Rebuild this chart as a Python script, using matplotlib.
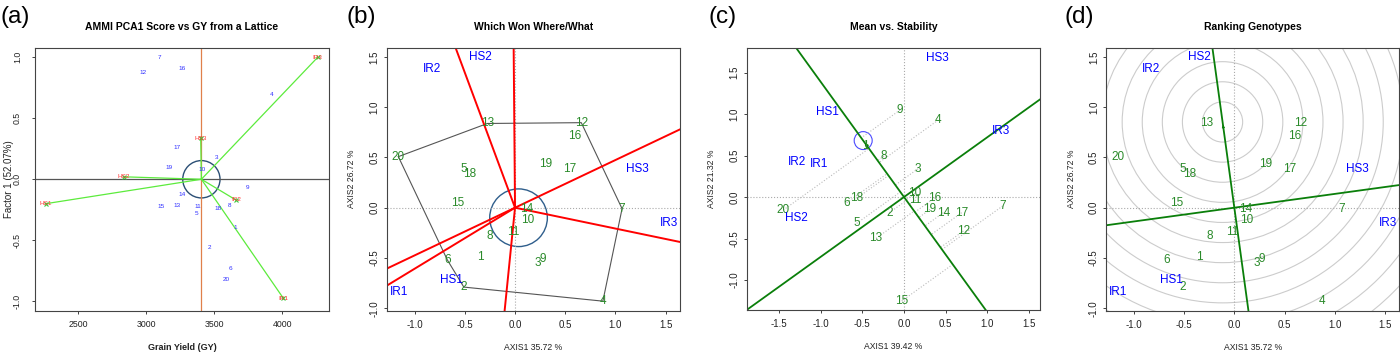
import matplotlib
matplotlib.use("Agg")
import matplotlib.pyplot as plt
import numpy as np
from matplotlib.patches import Circle, Ellipse

plt.rcParams["font.family"] = ["Liberation Sans", "DejaVu Sans"]
plt.rcParams["axes.unicode_minus"] = False

GENOTYPES = [str(i) for i in range(1, 21)]

# (a) AMMI: grain yield vs PCA1
A_GY = [3654, 3463, 3519, 3921, 3370, 3615, 3095, 3610, 3747, 3411,
        3377, 2978, 3225, 3260, 3106, 3260, 3223, 3524, 3164, 3588]
A_PC1 = [-0.397, -0.561, 0.180, 0.697, -0.279, -0.735, 1.000, -0.213, -0.069, 0.076,
         -0.224, 0.877, -0.213, -0.123, -0.221, 0.907, 0.262, -0.241, 0.095, -0.820]
A_ENVS = ["IR3", "HS3", "HS2", "HS1", "IR2", "IR1"]
A_ENV_GY = [4260, 3400, 2836, 2263, 3659, 4007]
A_ENV_PC1 = [1.000, 0.338, 0.020, -0.200, -0.170, -0.975]
A_MEAN_GY = 3405

# (b) and (d) GGE biplot scores
BD_X = [-0.349, -0.510, 0.226, 0.875, -0.515, -0.674, 1.066, -0.249, 0.272, 0.123,
        -0.017, 0.660, -0.275, 0.116, -0.571, 0.597, 0.548, -0.448, 0.309, -1.162]
BD_Y = [-0.487, -0.790, -0.553, -0.930, 0.381, -0.520, -0.010, -0.282, -0.513, -0.122,
        -0.245, 0.846, 0.838, -0.016, 0.050, 0.713, 0.388, 0.335, 0.432, 0.508]
BD_ENVS = ["IR2", "HS2", "HS3", "IR3", "HS1", "IR1"]
BD_ENV_X = [-0.830, -0.345, 1.222, 1.534, -0.631, -1.155]
BD_ENV_Y = [1.377, 1.495, 0.388, -0.149, -0.719, -0.839]
B_CIRCLE = (0.035, -0.100, 0.287)
D_IDEAL = (-0.117, 0.853)
D_RING_STEP = 0.2

# (c) mean vs stability scores
C_X = [-0.468, -0.176, 0.168, 0.412, -0.568, -0.688, 1.184, -0.240, -0.048, 0.132,
       0.140, 0.712, -0.336, 0.472, -0.028, 0.372, 0.692, -0.568, 0.312, -1.449]
C_Y = [0.618, -0.189, 0.341, 0.928, -0.317, -0.068, -0.108, 0.494, 1.048, 0.044,
       -0.036, -0.410, -0.498, -0.189, -1.253, -0.008, -0.189, -0.016, -0.150, -0.157]
C_ENVS = ["HS3", "HS1", "IR3", "IR2", "IR1", "HS2"]
C_ENV_X = [0.400, -0.916, 1.161, -1.288, -1.017, -1.288]
C_ENV_Y = [1.671, 1.028, 0.799, 0.422, 0.398, -0.257]
C_AVG_ENV = (-0.490, 0.680)

GREEN_TXT = "#2A8A2A"
LINE_GREEN = "#0A7F0A"
W, H = 1400, 361


def r_axes(ax, xlim, ylim, xticks, yticks, size=7.0, xpad=4.0, ypad=2.5):
    ax.set_xlim(*xlim)
    ax.set_ylim(*ylim)
    ax.set_xticks(xticks)
    ax.set_yticks(yticks)
    ax.tick_params(direction="out", length=2.5, width=0.6, labelsize=size,
                   colors="#222222")
    ax.tick_params(axis="x", pad=xpad)
    ax.tick_params(axis="y", pad=ypad)
    plt.setp(ax.get_yticklabels(), rotation=90, va="center", ha="right")
    for s in ax.spines.values():
        s.set_color("#444444")
        s.set_linewidth(0.8)


def labels(ax, title, xlab, ylab, ylab_off=-0.119, bold_x=False, ysize=6.2):
    ax.text(0.5, 1.08, title, transform=ax.transAxes, ha="center", va="center",
            fontsize=7.5, fontweight="bold")
    ax.text(0.5, -0.139, xlab, transform=ax.transAxes, ha="center", va="center",
            fontsize=6.5 if bold_x else 6.2,
            fontweight="bold" if bold_x else "normal", color="#222222")
    ax.text(ylab_off, 0.5, ylab, transform=ax.transAxes, ha="center", va="center",
            rotation=90, fontsize=ysize, color="#222222")


def convex_hull(pts):
    pts = sorted(pts)

    def cross(o, a, b):
        return (a[0] - o[0]) * (b[1] - o[1]) - (a[1] - o[1]) * (b[0] - o[0])

    lower, upper = [], []
    for p in pts:
        while len(lower) >= 2 and cross(lower[-2], lower[-1], p) <= 0:
            lower.pop()
        lower.append(p)
    for p in reversed(pts):
        while len(upper) >= 2 and cross(upper[-2], upper[-1], p) <= 0:
            upper.pop()
        upper.append(p)
    return lower[:-1] + upper[:-1]


fig = plt.figure(figsize=(W / 100, H / 100), dpi=100)
fig.patch.set_facecolor("white")

ax_a = fig.add_axes([35 / W, 50 / H, 294 / W, 263 / H])
ax_b = fig.add_axes([386.7 / W, 50.3 / H, 293.3 / W, 263 / H])
ax_c = fig.add_axes([746.7 / W, 51 / H, 293.3 / W, 262.3 / H])
ax_d = fig.add_axes([1106 / W, 50.3 / H, 293.3 / W, 263 / H])

for letter, x in [("(a)", 1), ("(b)", 347), ("(c)", 709), ("(d)", 1065)]:
    fig.text(x / W, 1 - 17 / H, letter, fontsize=17.5, ha="left", va="center")

# ---- (a)
ax = ax_a
r_axes(ax, (2182, 4343), (-1.08, 1.076), [2500, 3000, 3500, 4000],
       [-1.0, -0.5, 0.0, 0.5, 1.0], size=6.3, xpad=4.3, ypad=7.0)
ax.yaxis.set_major_formatter(matplotlib.ticker.FormatStrFormatter("%.1f"))
labels(ax, "AMMI PCA1 Score vs GY from a Lattice", "Grain Yield (GY)",
       "Factor 1 (52.07%)", ylab_off=-0.088, bold_x=True, ysize=7.0)
ax.axhline(0, color="#555555", lw=0.9)
ax.axvline(A_MEAN_GY, color="#E0804A", lw=0.9)
ax.add_patch(Ellipse((A_MEAN_GY, 0), 2 * 137, 2 * 0.153, fill=False,
                     ec="#2B4F75", lw=1.0))
for name, ex, ey in zip(A_ENVS, A_ENV_GY, A_ENV_PC1):
    ax.plot([A_MEAN_GY, ex], [0, ey], color="#5CEB3C", lw=0.9)
    ax.plot(ex, ey, marker="x", color="#3CC83C", ms=2.5, mew=0.8)
    ax.text(ex, ey, name, color="#FF3030", fontsize=4.6, ha="center", va="center")
for g, gx, gy in zip(GENOTYPES, A_GY, A_PC1):
    ax.text(gx, gy, g, color="#3030FF", fontsize=4.6, ha="center", va="center")

# ---- (b)
ax = ax_b
r_axes(ax, (-1.278, 1.643), (-1.025, 1.592), [-1.0, -0.5, 0.0, 0.5, 1.0, 1.5],
       [-1.0, -0.5, 0.0, 0.5, 1.0, 1.5])
labels(ax, "Which Won Where/What", "AXIS1 35.72 %", "AXIS2 26.72 %")
ax.axhline(0, color="#AAAAAA", ls=":", lw=0.8)
ax.axvline(0, color="#AAAAAA", ls=":", lw=0.8)
hull = convex_hull(list(zip(BD_X, BD_Y)))
hx = [p[0] for p in hull] + [hull[0][0]]
hy = [p[1] for p in hull] + [hull[0][1]]
ax.plot(hx, hy, color="#555555", lw=0.8)
for i in range(len(hull)):
    p = np.array(hull[i])
    q = np.array(hull[(i + 1) % len(hull)])
    d = q - p
    n = np.array([d[1], -d[0]])
    if np.dot(n, p) < 0:
        n = -n
    n = n / np.linalg.norm(n)
    ax.plot([0, 5 * n[0]], [0, 5 * n[1]], color="red", lw=1.4)
cx, cy, cr = B_CIRCLE
ax.add_patch(Circle((cx, cy), cr, fill=False, ec="#2F5E8C", lw=1.0))
for g, gx, gy in zip(GENOTYPES, BD_X, BD_Y):
    ax.text(gx, gy, g, color=GREEN_TXT, fontsize=8.5, ha="center", va="center")
for e, ex, ey in zip(BD_ENVS, BD_ENV_X, BD_ENV_Y):
    ax.text(ex, ey, e, color="blue", fontsize=8.5, ha="center", va="center")

# ---- (c)
ax = ax_c
r_axes(ax, (-1.888, 1.632), (-1.361, 1.799), [-1.5, -1.0, -0.5, 0.0, 0.5, 1.0, 1.5],
       [-1.0, -0.5, 0.0, 0.5, 1.0, 1.5])
labels(ax, "Mean vs. Stability", "AXIS1 39.42 %", "AXIS2 21.32 %")
ax.axhline(0, color="#AAAAAA", ls=":", lw=0.8)
ax.axvline(0, color="#AAAAAA", ls=":", lw=0.8)
u = np.array(C_AVG_ENV) / np.linalg.norm(C_AVG_ENV)
v = np.array([-u[1], u[0]])
for g, gx, gy in zip(GENOTYPES, C_X, C_Y):
    p = np.array([gx, gy])
    proj = np.dot(p, u) * u
    ax.plot([gx, proj[0]], [gy, proj[1]], color="#BBBBBB", ls=":", lw=0.8)
ax.plot([-5 * u[0], 5 * u[0]], [-5 * u[1], 5 * u[1]], color=LINE_GREEN, lw=1.3)
ax.plot([-5 * v[0], 5 * v[0]], [-5 * v[1], 5 * v[1]], color=LINE_GREEN, lw=1.3)
ax.add_patch(Circle(C_AVG_ENV, 0.108, fill=False, ec="#4A4AFF", lw=0.8))
ax.annotate("", xy=C_AVG_ENV, xytext=tuple(np.array(C_AVG_ENV) * 0.85),
            arrowprops=dict(arrowstyle="-|>", color=LINE_GREEN, lw=0.8,
                            mutation_scale=5))
for g, gx, gy in zip(GENOTYPES, C_X, C_Y):
    ax.text(gx, gy, g, color=GREEN_TXT, fontsize=8.5, ha="center", va="center")
for e, ex, ey in zip(C_ENVS, C_ENV_X, C_ENV_Y):
    ax.text(ex, ey, e, color="blue", fontsize=8.5, ha="center", va="center")

# ---- (d)
ax = ax_d
r_axes(ax, (-1.278, 1.643), (-1.025, 1.592), [-1.0, -0.5, 0.0, 0.5, 1.0, 1.5],
       [-1.0, -0.5, 0.0, 0.5, 1.0, 1.5])
labels(ax, "Ranking Genotypes", "AXIS1 35.72 %", "AXIS2 26.72 %")
for k in range(1, 16):
    ax.add_patch(Circle(D_IDEAL, k * D_RING_STEP, fill=False, ec="#CCCCCC", lw=0.8))
ax.axhline(0, color="#AAAAAA", ls=":", lw=0.8)
ax.axvline(0, color="#AAAAAA", ls=":", lw=0.8)
u = np.array(D_IDEAL) / np.linalg.norm(D_IDEAL)
v = np.array([-u[1], u[0]])
ax.plot([-5 * u[0], 5 * u[0]], [-5 * u[1], 5 * u[1]], color=LINE_GREEN, lw=1.3)
ax.plot([-5 * v[0], 5 * v[0]], [-5 * v[1], 5 * v[1]], color=LINE_GREEN, lw=1.3)
ax.annotate("", xy=D_IDEAL, xytext=tuple(np.array(D_IDEAL) * 0.9),
            arrowprops=dict(arrowstyle="-|>", color=LINE_GREEN, lw=0.6,
                            mutation_scale=4))
for g, gx, gy in zip(GENOTYPES, BD_X, BD_Y):
    ax.text(gx, gy, g, color=GREEN_TXT, fontsize=8.5, ha="center", va="center")
for e, ex, ey in zip(BD_ENVS, BD_ENV_X, BD_ENV_Y):
    ax.text(ex, ey, e, color="blue", fontsize=8.5, ha="center", va="center")

fig.savefig("out.png", dpi=100)
